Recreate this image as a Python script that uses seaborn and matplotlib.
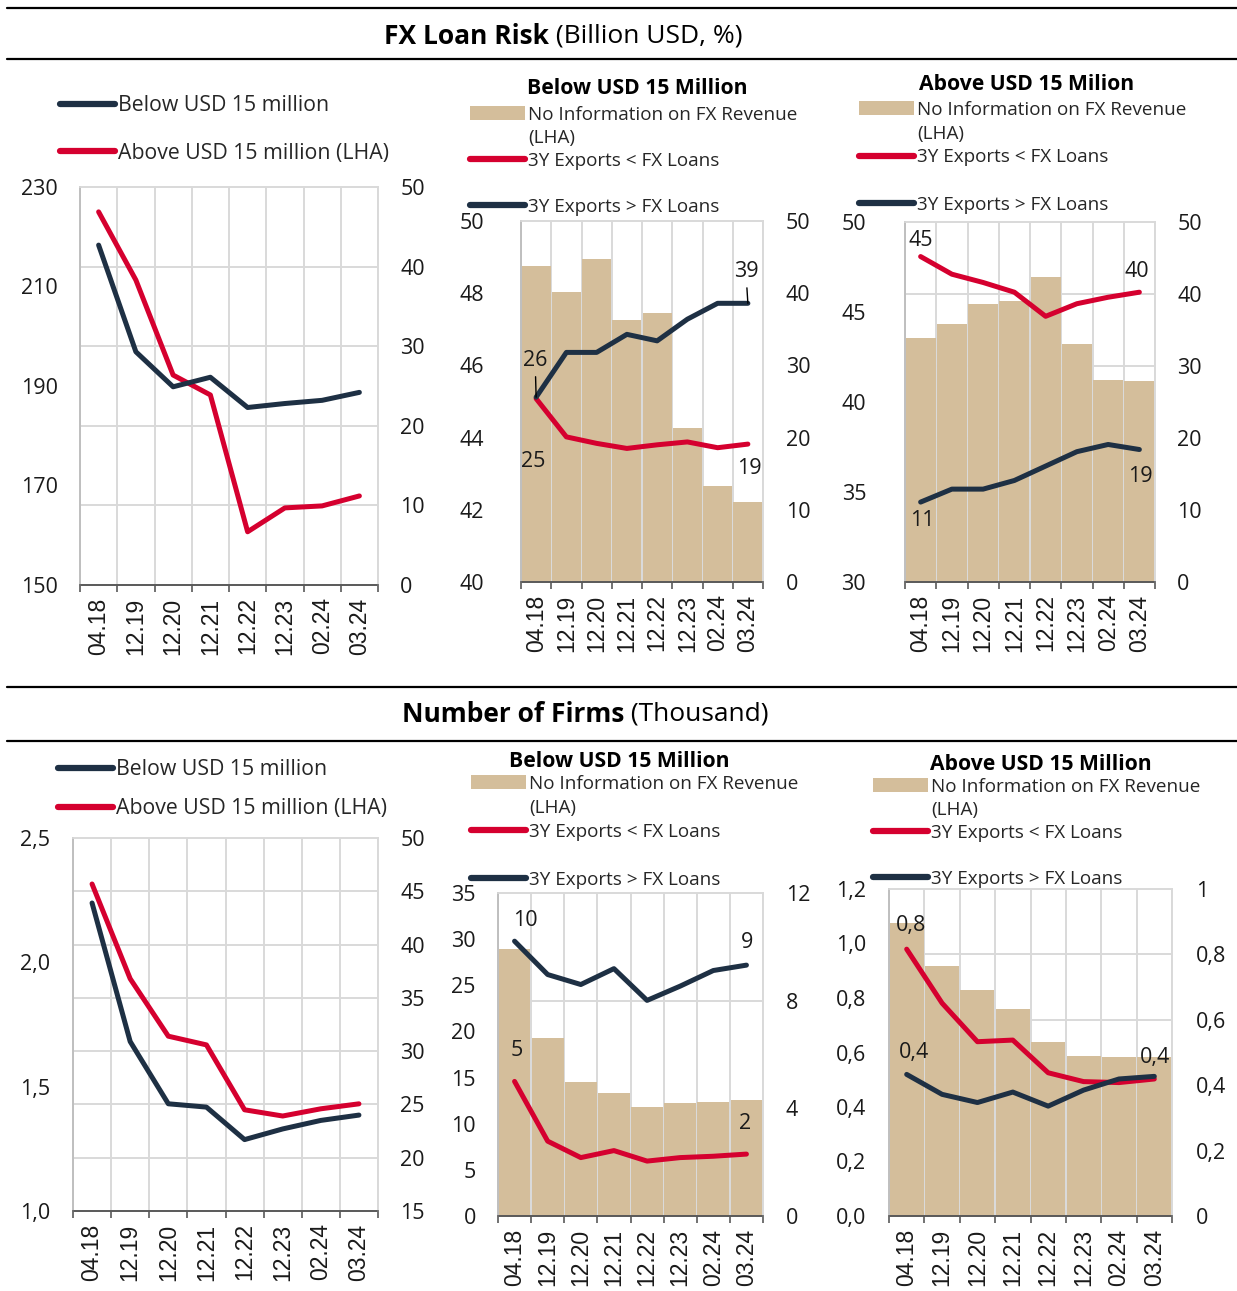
import numpy as np
import matplotlib
matplotlib.use("Agg")
import matplotlib.pyplot as plt
from matplotlib.lines import Line2D
from matplotlib.patches import Patch
from matplotlib.ticker import FixedLocator
import seaborn as sns

# ---------------- data ----------------
periods = ["04.18", "12.19", "12.20", "12.21", "12.22", "12.23", "02.24", "03.24"]

# FX Loan Risk (Billion USD, %)
p1_above = [225.0, 211.3, 192.2, 188.2, 160.7, 165.5, 165.9, 167.9]   # LHA
p1_below = [42.7, 29.3, 24.9, 26.1, 22.3, 22.8, 23.2, 24.2]           # RHA

p2_noinfo = [48.75, 48.04, 48.94, 47.27, 47.45, 44.27, 42.65, 42.21]  # LHA
p2_less = [25.4, 20.1, 19.2, 18.5, 19.0, 19.4, 18.6, 19.1]
p2_more = [25.6, 31.8, 31.8, 34.3, 33.4, 36.4, 38.6, 38.6]

p3_noinfo = [43.56, 44.33, 45.42, 45.63, 46.95, 43.22, 41.24, 41.15]  # LHA
p3_less = [45.2, 42.75, 41.6, 40.25, 36.9, 38.65, 39.55, 40.25]
p3_more = [11.1, 12.9, 12.9, 14.1, 16.1, 18.1, 19.1, 18.4]

# Number of Firms (Thousand)
p4_above = [2.315, 1.934, 1.703, 1.668, 1.407, 1.382, 1.411, 1.431]  # LHA
p4_below = [43.9, 30.9, 25.06, 24.75, 21.7, 22.7, 23.5, 24.0]         # RHA

p5_noinfo = [28.9, 19.33, 14.5, 13.35, 11.86, 12.2, 12.3, 12.58]      # LHA
p5_less = [5.0, 2.78, 2.17, 2.43, 2.04, 2.17, 2.22, 2.30]
p5_more = [10.21, 8.97, 8.60, 9.19, 8.01, 8.54, 9.12, 9.32]

p6_noinfo = [1.074, 0.9165, 0.83, 0.758, 0.637, 0.587, 0.585, 0.585]  # LHA
p6_less = [0.816, 0.651, 0.533, 0.538, 0.438, 0.411, 0.408, 0.419]
p6_more = [0.433, 0.372, 0.347, 0.379, 0.336, 0.385, 0.419, 0.427]

# tick labels
p1_left_ticks = [150, 170, 190, 210, 230]
p1_right_ticks = [0, 10, 20, 30, 40, 50]
p2_left_ticks = [40, 42, 44, 46, 48, 50]
p2_right_ticks = [0, 10, 20, 30, 40, 50]
p3_left_ticks = [30, 35, 40, 45, 50]
p3_right_ticks = [0, 10, 20, 30, 40, 50]
p4_left_ticks = [1.0, 1.5, 2.0, 2.5]
p4_left_labels = ["1,0", "1,5", "2,0", "2,5"]
p4_right_ticks = [15, 20, 25, 30, 35, 40, 45, 50]
p5_left_ticks = [0, 5, 10, 15, 20, 25, 30, 35]
p5_right_ticks = [0, 4, 8, 12]
p6_left_ticks = [0.0, 0.2, 0.4, 0.6, 0.8, 1.0, 1.2]
p6_left_labels = ["0,0", "0,2", "0,4", "0,6", "0,8", "1,0", "1,2"]
p6_right_ticks = [0, 0.2, 0.4, 0.6, 0.8, 1.0]
p6_right_labels = ["0", "0,2", "0,4", "0,6", "0,8", "1"]

# ---------------- style ----------------
NAVY = "#1E3044"
RED = "#D5002F"
TAN = "#D4BE9B"
GRID = "#D9D9D9"
TXT = "#1a1a1a"
TICK_FS = 15.5
XTICK_FS = 16.5
ANN_FS = 15.5

sns.set_theme(style="white")
plt.rcParams["font.family"] = ["Open Sans", "DejaVu Sans"]
plt.rcParams["axes.unicode_minus"] = False

W, H = 1237, 1291
fig = plt.figure(figsize=(W / 100, H / 100), dpi=100)
fig.patch.set_facecolor("white")


def add_axes_px(x0, x1, y0, y1):
    return fig.add_axes([x0 / W, 1 - y1 / H, (x1 - x0) / W, (y1 - y0) / H])


xpos = np.arange(len(periods))


def style_axes(ax, ax2, llim, rlim, lticks, rticks, llabels=None, rlabels=None,
               lpad=16, rpad=16):
    ax.set_xlim(-0.5, len(periods) - 0.5)
    ax.set_ylim(*llim)
    ax2.set_ylim(*rlim)
    ax.set_yticks(lticks)
    ax.set_yticklabels(llabels if llabels else [str(t) for t in lticks])
    ax2.set_yticks(rticks)
    ax2.set_yticklabels(rlabels if rlabels else [str(t) for t in rticks])
    # grid (from right axis ticks) drawn on primary axes, behind bars
    grid_pos = [llim[0] + (t - rlim[0]) / (rlim[1] - rlim[0]) * (llim[1] - llim[0])
                for t in rticks]
    ax.yaxis.set_minor_locator(FixedLocator(grid_pos))
    ax.set_xticks(xpos)
    ax.set_xticklabels(periods, rotation=90, family=["Liberation Sans"], fontsize=XTICK_FS,
                       color=TXT)
    ax.xaxis.set_minor_locator(FixedLocator(np.arange(-0.5, len(periods), 1.0)))
    ax.grid(which="minor", axis="both", color=GRID, linewidth=1.4)
    ax.grid(which="major", visible=False)
    ax2.grid(False)
    ax.set_axisbelow(True)
    ax.tick_params(axis="x", which="major", length=0, pad=9)
    ax.tick_params(axis="x", which="minor", length=5, width=1.2, color="#595959",
                   direction="out", bottom=True)
    ax.tick_params(axis="y", which="both", length=0, pad=lpad, labelsize=TICK_FS,
                   labelcolor=TXT)
    ax2.tick_params(axis="y", which="both", length=0, pad=rpad, labelsize=TICK_FS,
                    labelcolor=TXT)
    for a in (ax, ax2):
        a.spines["top"].set_color(GRID)
        a.spines["right"].set_color(GRID)
        a.spines["left"].set_color("#BFBFBF")
        a.spines["bottom"].set_color("#595959")
        for s in a.spines.values():
            s.set_linewidth(1.2)
        a.set_xlabel("")
        a.set_ylabel("")


def line(ax, y, color):
    sns.lineplot(x=xpos, y=y, ax=ax, color=color, linewidth=3.6, legend=False,
                 solid_capstyle="round", solid_joinstyle="round")


def bars(ax, y):
    sns.barplot(x=periods, y=y, ax=ax, color=TAN, saturation=1, width=0.96,
                edgecolor="none", linewidth=0)


def two_line_legend(ax, x_px, y_px, spacing):
    handles = [Line2D([], [], color=NAVY, lw=4.5, solid_capstyle="round"),
               Line2D([], [], color=RED, lw=4.5, solid_capstyle="round")]
    labels = ["Below USD 15 million", "Above USD 15 million (LHA)"]
    ax.legend(handles, labels, loc="upper left", bbox_to_anchor=(x_px / W, 1 - y_px / H),
              bbox_transform=fig.transFigure, frameon=False, borderpad=0,
              borderaxespad=0, handlelength=2.6, handletextpad=0.14,
              labelspacing=spacing, prop={"family": "Open Sans", "size": 15.3})


def bar_legend(ax, x_px, y_px, spacing):
    blank = Line2D([], [], linestyle="none")
    handles = [Patch(facecolor=TAN, edgecolor="none"), blank,
               Line2D([], [], color=RED, lw=4.5, solid_capstyle="round"), blank,
               Line2D([], [], color=NAVY, lw=4.5, solid_capstyle="round")]
    labels = ["No Information on FX Revenue", "(LHA)", "3Y Exports < FX Loans", " ",
              "3Y Exports > FX Loans"]
    ax.legend(handles, labels, loc="upper left", bbox_to_anchor=(x_px / W, 1 - y_px / H),
              bbox_transform=fig.transFigure, frameon=False, borderpad=0,
              borderaxespad=0, handlelength=2.92, handleheight=0.75, handletextpad=0.16,
              labelspacing=spacing, prop={"family": "Open Sans", "size": 13.6})


def annotate(ax, i, y, text, dx, dy, leader=False):
    kw = {}
    if leader:
        kw["arrowprops"] = dict(arrowstyle="-", color="black", lw=1.0,
                                shrinkA=2, shrinkB=0)
    ax.annotate(text, xy=(i, y), xytext=(dx, dy), textcoords="offset pixels",
                ha="center", va="center", fontsize=ANN_FS, color=TXT, **kw)


# ---------------- section decorations ----------------
for yy in (8, 59, 687, 741):
    fig.add_artist(Line2D([7 / W, 1.0], [1 - yy / H, 1 - yy / H],
                          transform=fig.transFigure, color="black", lw=1.6))

fig.text(549 / W, 1 - 36 / H, "FX Loan Risk", ha="right", va="center",
         fontsize=19, fontweight="bold", color="black")
fig.text(549 / W, 1 - 36 / H, " (Billion USD, %)", ha="left", va="center",
         fontsize=19, color="black")
fig.text(624 / W, 1 - 714 / H, "Number of Firms", ha="right", va="center",
         fontsize=19, fontweight="bold", color="black")
fig.text(624 / W, 1 - 714 / H, " (Thousand)", ha="left", va="center",
         fontsize=19, color="black")

# ---------------- panel 1 ----------------
ax1 = add_axes_px(80, 378, 187, 585)
ax1b = ax1.twinx()
line(ax1, p1_above, RED)
line(ax1b, p1_below, NAVY)
style_axes(ax1, ax1b, (150, 230), (0, 50), p1_left_ticks, p1_right_ticks, lpad=16, rpad=16)
two_line_legend(ax1b, 60, 95, 1.25)

# ---------------- panel 2 ----------------
ax2 = add_axes_px(521, 763, 221, 582)
ax2b = ax2.twinx()
bars(ax2, p2_noinfo)
line(ax2b, p2_less, RED)
line(ax2b, p2_more, NAVY)
style_axes(ax2, ax2b, (40, 50), (0, 50), p2_left_ticks, p2_right_ticks, lpad=26.5, rpad=16.5)
fig.text(637 / W, 1 - 88 / H, "Below USD 15 Million", ha="center", va="center",
         fontsize=15.2, fontweight="bold", color="black")
bar_legend(ax2b, 470, 105.5, 0.27)
annotate(ax2b, 0, p2_more[0], "26", -1, 37, leader=True)
annotate(ax2b, 0, p2_less[0], "25", -3, -63)
annotate(ax2b, 7, p2_more[7], "39", -2, 32, leader=True)
annotate(ax2b, 7, p2_less[7], "19", 1, -24)

# ---------------- panel 3 ----------------
ax3 = add_axes_px(905, 1155, 222, 582)
ax3b = ax3.twinx()
bars(ax3, p3_noinfo)
line(ax3b, p3_less, RED)
line(ax3b, p3_more, NAVY)
style_axes(ax3, ax3b, (30, 50), (0, 50), p3_left_ticks, p3_right_ticks, lpad=28, rpad=16)
fig.text(1027 / W, 1 - 85 / H, "Above USD 15 Milion", ha="center", va="center",
         fontsize=15.2, fontweight="bold", color="black")
bar_legend(ax3b, 859, 101, 0.30)
annotate(ax3b, 0, p3_less[0], "45", 0, 16)
annotate(ax3b, 7, p3_less[7], "40", -3, 21)
annotate(ax3b, 0, p3_more[0], "11", 2, -18)
annotate(ax3b, 7, p3_more[7], "19", 1, -27)

# ---------------- panel 4 ----------------
ax4 = add_axes_px(73, 378, 838, 1211)
ax4b = ax4.twinx()
line(ax4, p4_above, RED)
line(ax4b, p4_below, NAVY)
style_axes(ax4, ax4b, (1.0, 2.5), (15, 50), p4_left_ticks, p4_right_ticks,
           llabels=p4_left_labels, lpad=16.5, rpad=16)
two_line_legend(ax4b, 58, 759, 0.85)

# ---------------- panel 5 ----------------
ax5 = add_axes_px(498, 763, 893, 1216)
ax5b = ax5.twinx()
bars(ax5, p5_noinfo)
line(ax5b, p5_less, RED)
line(ax5b, p5_more, NAVY)
style_axes(ax5, ax5b, (0, 35), (0, 12), p5_left_ticks, p5_right_ticks, lpad=16, rpad=16.5)
fig.text(619 / W, 1 - 761 / H, "Below USD 15 Million", ha="center", va="center",
         fontsize=15.2, fontweight="bold", color="black")
bar_legend(ax5b, 471, 775, 0.32)
annotate(ax5b, 0, p5_more[0], "10", 11, 21)
annotate(ax5b, 7, p5_more[7], "9", 1, 23)
annotate(ax5b, 0, p5_less[0], "5", 2, 31)
annotate(ax5b, 7, p5_less[7], "2", -1, 31)

# ---------------- panel 6 ----------------
ax6 = add_axes_px(889, 1172, 889, 1216)
ax6b = ax6.twinx()
bars(ax6, p6_noinfo)
line(ax6b, p6_less, RED)
line(ax6b, p6_more, NAVY)
style_axes(ax6, ax6b, (0, 1.2), (0, 1.0), p6_left_ticks, p6_right_ticks,
           llabels=p6_left_labels, rlabels=p6_right_labels, lpad=16.5, rpad=17)
fig.text(1041 / W, 1 - 764 / H, "Above USD 15 Million", ha="center", va="center",
         fontsize=15.2, fontweight="bold", color="black")
bar_legend(ax6b, 873, 778, 0.26)
annotate(ax6b, 0, p6_less[0], "0,8", 4, 24)
annotate(ax6b, 0, p6_more[0], "0,4", 7, 22)
annotate(ax6b, 7, p6_more[7], "0,4", 1, 19)

fig.savefig("out.png", dpi=100, facecolor="white")
